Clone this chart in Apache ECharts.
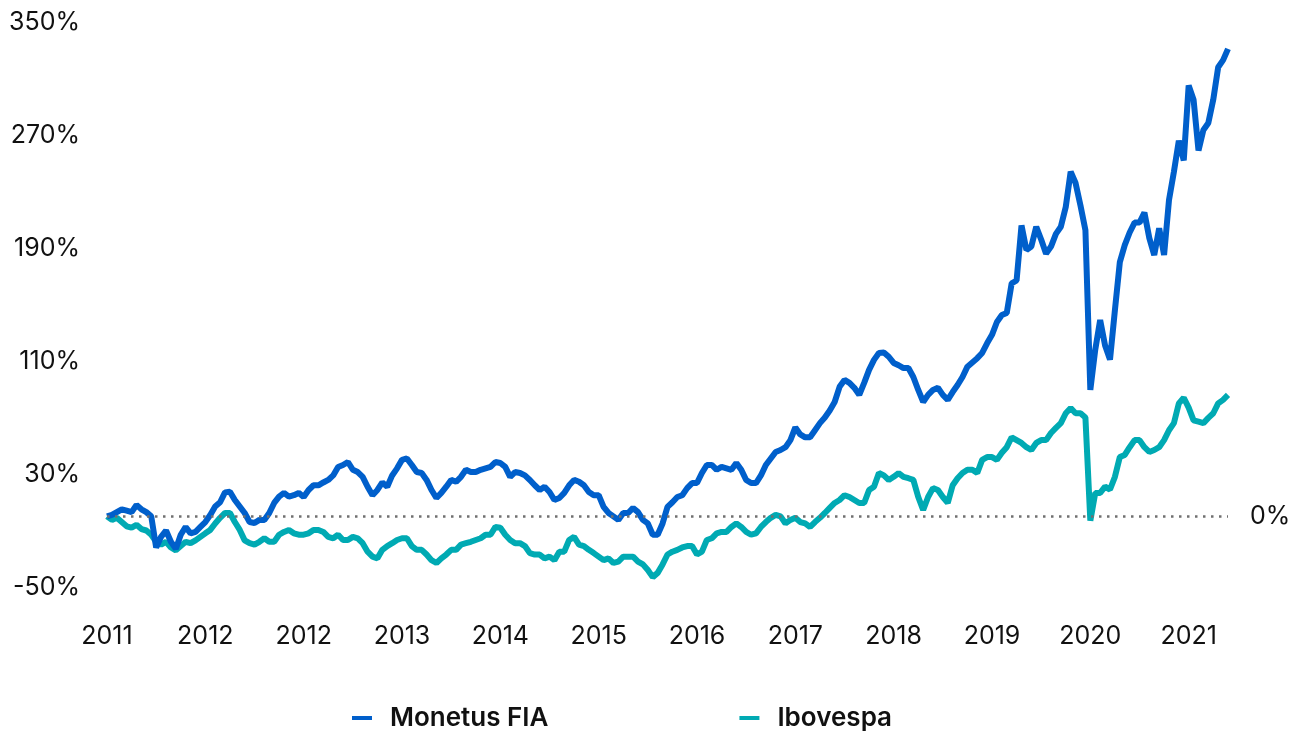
<!DOCTYPE html>
<html>
<head>
<meta charset="utf-8">
<title>Monetus FIA x Ibovespa</title>
<script src="https://cdn.jsdelivr.net/npm/echarts@6/dist/echarts.min.js"></script>
<style>
    html,body{margin:0;padding:0;background:#fff;}
    #main{width:1303px;height:731px;}
</style>
</head>
<body>
<div id="main"></div>
<script>
// accumulated return (%), about every 5px of the plot
var monetus = [0, 1, 3, 5, 4, 3, 8, 5, 3, 0, -22, -14.5, -10, -18, -23, -13, -7.5, -12, -11, -7.5,
    -4, 1, 7, 10, 17, 17.5, 11.6, 7, 2.4, -4, -4.7, -2.5, -2.5, 2.4, 9.5, 14, 16.6, 14, 15, 16.6,
    13.7, 18.7, 22, 22, 24, 25.8, 29, 35, 36.4, 38.5, 33, 31.4, 28, 21, 15, 18.7, 24, 21, 29, 34,
    40, 41, 36.4, 31.4, 30.7, 25.8, 18.7, 13, 16.6, 21, 25.8, 24.5, 28, 33, 31.4, 31.4, 33, 34, 35, 38.5,
    37.8, 35, 28, 31.4, 30.7, 29, 25.8, 22, 18.7, 21, 17.3, 11.6, 13, 16.6, 22, 25.8, 24.5, 22, 17.3, 15,
    15, 6.7, 2.4, 0, -2.5, 2.4, 2.4, 6, 3, -2.5, -5, -13, -13, -5, 6.7, 10, 13.7, 15, 20, 23.6,
    23.6, 30.7, 36.4, 36.4, 33, 35, 34, 33, 37.8, 33, 25.8, 23.6, 23.6, 29, 36.4, 41, 45.6, 47, 49, 54,
    63, 58, 56, 56, 61, 66, 70, 75, 81, 91.7, 96.6, 94.5, 91, 86, 94.5, 103.7, 110.8, 115.7, 116, 113,
    108.6, 107, 105, 105, 98.7, 89.5, 81, 86, 89.5, 91, 86, 82.5, 88, 93, 98.7, 106, 109, 112, 115.7, 122.5,
    128.5, 137.6, 142.5, 144, 165, 167, 206, 188.6, 191, 205, 196, 186, 191, 200, 205, 219, 244, 236, 220, 202.7,
    89.5, 118, 139, 121, 111, 146, 180, 192, 201, 208, 208, 215, 197, 185, 204, 185, 224, 244, 266, 252,
    305, 295, 259, 273.6, 278.5, 295, 318, 323, 331];
var ibovespa = [0, -2.5, -1, -4, -7, -8, -6, -9, -10, -13, -18, -20, -18, -22, -24, -21, -18, -19, -17, -14.5,
    -12, -9.6, -5, -1, 2.4, 2.4, -4, -9.6, -17, -19, -20, -18, -15.5, -18, -18, -13, -11, -9.6, -12, -13,
    -13, -12, -9.6, -9.6, -11, -14.5, -15.5, -13, -16.7, -16.7, -14.5, -15.5, -19, -25, -28.5, -29.7, -23.7, -21, -19, -16.7,
    -15.5, -15.5, -21, -23.7, -23.7, -27, -31, -33, -29.7, -27, -23.7, -23.7, -20, -19, -18, -16.7, -15.5, -13, -13, -7.5,
    -8, -13, -16.7, -19, -19, -21, -26, -27, -27, -29.7, -28.5, -31, -25, -25, -16.7, -14.5, -20, -21, -23.7, -26,
    -28.5, -31, -29.7, -33, -32, -28.5, -28.5, -28.5, -32, -34, -38, -43, -40, -34, -27, -25, -23.7, -22, -21, -21,
    -27, -25, -16.7, -15.5, -12, -11, -11, -7.5, -5, -7.5, -11, -13, -12, -7.5, -4, -1, 1, 0, -5, -2.5,
    -1, -4, -5, -7.5, -4, -1, 2.4, 6, 9.5, 11.6, 15, 13.7, 11.6, 9.5, 9.5, 18.7, 21, 30.7, 29, 25.8,
    28, 30.7, 28, 27, 25.8, 13.7, 4.5, 13.7, 20, 18.7, 13.7, 9.5, 22, 27, 30.7, 33, 33, 30.7, 40, 42,
    42, 40, 45, 49, 56, 54, 52, 49, 47, 52, 54, 54, 59, 62.6, 66, 73, 76.7, 73, 73, 70,
    -3, 16.6, 16.6, 21, 19, 28, 42, 43.5, 49, 54, 54, 49, 45.6, 47, 49, 54, 61, 66, 80, 84,
    77, 68, 67, 66, 69.7, 73, 80, 82.5, 86];

// one label every 20 points
var xTickLabels = ["2011", "2012", "2012", "2013", "2014", "2015", "2016", "2017", "2018", "2019", "2020", "2021"];
var yTickValues = [-50, 30, 110, 190, 270, 350];

var seriesNames = ["Monetus FIA", "Ibovespa"];
var seriesColors = ["#005FCB", "#00AAB3"];

var xCats = [];
for (var i = 0; i < monetus.length; i++) {
    xCats.push(String(i));
}

var fontName = "Inter";

var myChart = echarts.init(document.getElementById("main"));
var option = {
    animation: false,
    grid: {left: 107, right: 75, top: 22, bottom: 144},
    legend: {
        data: seriesNames,
        left: 347,
        top: 700,
        itemGap: 191,
        icon: "rect",
        itemWidth: 20,
        itemHeight: 4,
        textStyle: {
            fontFamily: fontName,
            fontSize: 26,
            fontWeight: 600,
            color: "#111",
            padding: [0, 0, 0, 13]
        }
    },
    xAxis: {
        type: "category",
        data: xCats,
        boundaryGap: false,
        axisLine: {show: false},
        axisTick: {show: false},
        splitLine: {show: false},
        axisLabel: {
            interval: 19,
            margin: 37,
            fontFamily: fontName,
            fontSize: 25,
            color: "#111",
            formatter: function (value, index) {
                return xTickLabels[index / 20];
            }
        }
    },
    yAxis: {
        type: "value",
        min: -50,
        max: 350,
        axisLine: {show: false},
        axisTick: {show: false},
        splitLine: {show: false},
        axisLabel: {
            customValues: yTickValues,
            margin: 27,
            fontFamily: fontName,
            fontSize: 25,
            color: "#111",
            formatter: "{value}%"
        }
    },
    series: [
        {
            name: seriesNames[0],
            type: "line",
            data: monetus,
            z: 3,
            symbol: "none",
            color: seriesColors[0],
            lineStyle: {width: 6, color: seriesColors[0]},
            markLine: {
                silent: true,
                symbol: "none",
                data: [{yAxis: 0}],
                lineStyle: {color: "#707070", width: 2.5, type: [2.5, 5.5]},
                label: {
                    position: "end",
                    distance: 22,
                    formatter: "0%",
                    fontFamily: fontName,
                    fontSize: 25,
                    color: "#111"
                }
            }
        },
        {
            name: seriesNames[1],
            type: "line",
            data: ibovespa,
            z: 2,
            symbol: "none",
            color: seriesColors[1],
            lineStyle: {width: 6, color: seriesColors[1]}
        }
    ]
};
myChart.setOption(option);
</script>
</body>
</html>
